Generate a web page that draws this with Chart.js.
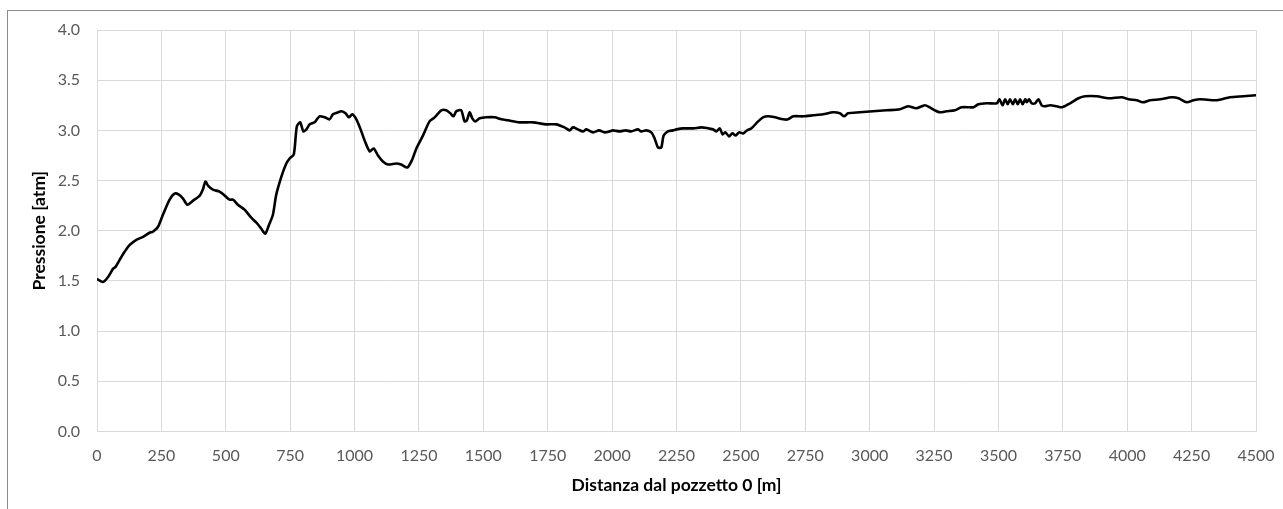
<!DOCTYPE html>
<html>
<head>
<meta charset="utf-8">
<script src="https://cdn.jsdelivr.net/npm/chart.js@4/dist/chart.umd.min.js"></script>
<style>
  html, body { margin: 0; padding: 0; background: #fff; overflow: hidden; }
  #cornice {
    position: absolute; left: 7px; top: 10px; right: -10px; bottom: -10px;
    border: 1px solid #8c8c8c;
  }
  #box { position: absolute; left: 0; top: 0; width: 1283px; height: 509px; }
</style>
</head>
<body>
<div id="cornice"></div>
<div id="box"><canvas id="grafico"></canvas></div>
<script>
// ========================================
// Dati
// ========================================
const distanza = [
  0, 23, 43, 62, 72, 88, 107, 127, 153, 179, 204, 217, 237, 256, 282, 301, 318, 334, 351, 373,
  399, 411, 421, 431, 450, 476, 496, 515, 528, 547, 573, 599, 619, 638, 653, 668, 683, 696, 716, 735,
  748, 764, 776, 789, 801, 813, 826, 845, 864, 884, 903, 916, 936, 949, 965, 978, 991, 1007, 1022, 1039,
  1059, 1074, 1091, 1110, 1130, 1162, 1181, 1205, 1224, 1240, 1266, 1291, 1311, 1337, 1356, 1372, 1384, 1395, 1414, 1427,
  1436, 1447, 1457, 1469, 1486, 1511, 1544, 1570, 1595, 1641, 1693, 1744, 1783, 1815, 1835, 1848, 1867, 1887, 1900, 1926,
  1949, 1971, 1990, 2003, 2029, 2052, 2074, 2100, 2113, 2132, 2152, 2165, 2178, 2191, 2200, 2217, 2236, 2250, 2276, 2315,
  2347, 2392, 2405, 2418, 2429, 2440, 2454, 2467, 2480, 2493, 2509, 2524, 2541, 2567, 2586, 2606, 2632, 2664, 2683, 2703,
  2742, 2781, 2819, 2858, 2884, 2901, 2916, 2962, 3013, 3065, 3117, 3149, 3181, 3214, 3233, 3253, 3272, 3298, 3331, 3356,
  3389, 3403, 3422, 3455, 3494, 3504, 3516, 3526, 3536, 3545, 3556, 3565, 3575, 3584, 3594, 3604, 3610, 3619, 3629, 3642,
  3655, 3668, 3681, 3701, 3726, 3748, 3778, 3811, 3836, 3882, 3927, 3979, 4005, 4037, 4060, 4089, 4128, 4173, 4199, 4231,
  4257, 4283, 4348, 4399, 4451, 4500
];

const pressione = [
  1.52, 1.49, 1.54, 1.62, 1.64, 1.71, 1.79, 1.86, 1.91, 1.94, 1.98, 1.99, 2.04, 2.16, 2.31, 2.37, 2.36, 2.32, 2.26, 2.30,
  2.35, 2.41, 2.49, 2.45, 2.41, 2.39, 2.35, 2.31, 2.31, 2.26, 2.21, 2.13, 2.08, 2.02, 1.97, 2.06, 2.16, 2.36, 2.54, 2.67,
  2.72, 2.76, 3.04, 3.08, 2.99, 3.01, 3.06, 3.08, 3.14, 3.13, 3.11, 3.16, 3.18, 3.19, 3.17, 3.13, 3.16, 3.11, 3.02, 2.90,
  2.79, 2.82, 2.75, 2.69, 2.66, 2.67, 2.66, 2.63, 2.71, 2.82, 2.95, 3.09, 3.13, 3.20, 3.20, 3.17, 3.14, 3.19, 3.20, 3.09,
  3.10, 3.18, 3.12, 3.09, 3.12, 3.13, 3.13, 3.11, 3.10, 3.08, 3.08, 3.06, 3.06, 3.03, 3.00, 3.03, 3.01, 2.99, 3.01, 2.98,
  3.00, 2.98, 2.99, 3.00, 2.99, 3.00, 2.99, 3.01, 2.99, 3.00, 2.98, 2.92, 2.83, 2.83, 2.95, 2.99, 3.00, 3.01, 3.02, 3.02,
  3.03, 3.01, 2.99, 3.02, 2.96, 2.98, 2.94, 2.97, 2.95, 2.98, 2.97, 3.00, 3.02, 3.09, 3.13, 3.14, 3.13, 3.11, 3.11, 3.14,
  3.14, 3.15, 3.16, 3.18, 3.17, 3.14, 3.17, 3.18, 3.19, 3.20, 3.21, 3.24, 3.22, 3.25, 3.23, 3.20, 3.18, 3.19, 3.20, 3.23,
  3.23, 3.23, 3.26, 3.27, 3.27, 3.31, 3.25, 3.31, 3.26, 3.31, 3.26, 3.31, 3.26, 3.31, 3.26, 3.31, 3.28, 3.31, 3.27, 3.27,
  3.31, 3.25, 3.24, 3.25, 3.24, 3.23, 3.27, 3.32, 3.34, 3.34, 3.32, 3.33, 3.31, 3.30, 3.28, 3.30, 3.31, 3.33, 3.32, 3.28,
  3.30, 3.31, 3.30, 3.33, 3.34, 3.35
];

const tickX = { min: 0, max: 4500, passo: 250 };
const tickY = { min: 0, max: 4, passo: 0.5 };

const titoloX = 'Distanza dal pozzetto 0 [m]';
const titoloY = 'Pressione [atm]';

// ========================================
// Grafico
// ========================================
const punti = distanza.map((d, i) => ({ x: d, y: pressione[i] }));
const FONT = 'Lato, Calibri, Carlito, sans-serif';
const GRIGLIA = '#d9d9d9';

const ctx = document.getElementById('grafico').getContext('2d');
new Chart(ctx, {
  type: 'line',
  data: {
    datasets: [{
      label: 'Pressione',
      data: punti,
      borderColor: '#000000',
      borderWidth: 2.6,
      pointRadius: 0,
      tension: 0.25,
      fill: false
    }]
  },
  options: {
    responsive: true,
    maintainAspectRatio: false,
    animation: false,
    layout: { padding: { left: 0, top: 30, right: 27, bottom: 0 } },
    plugins: {
      legend: { display: false },
      tooltip: { enabled: false }
    },
    scales: {
      x: {
        type: 'linear',
        min: tickX.min,
        max: tickX.max,
        afterFit: (scale) => {
          scale.height = 77.5;
          scale.paddingLeft = 0;
          scale.paddingRight = 0;
        },
        grid: { color: GRIGLIA, drawTicks: false },
        border: { color: GRIGLIA },
        ticks: {
          stepSize: tickX.passo,
          padding: 15,
          color: '#595959',
          font: { family: FONT, size: 16 },
          maxRotation: 0,
          callback: (v) => String(v)
        },
        title: {
          display: true,
          text: titoloX,
          color: '#000000',
          font: { family: FONT, size: 17.5, weight: 'bold' },
          padding: { top: 0, bottom: 13 }
        }
      },
      y: {
        min: tickY.min,
        max: tickY.max,
        afterFit: (scale) => { scale.width = 97; },
        grid: { color: GRIGLIA, drawTicks: false },
        border: { color: GRIGLIA },
        ticks: {
          stepSize: tickY.passo,
          padding: 17,
          color: '#595959',
          font: { family: FONT, size: 16 },
          callback: (v) => v.toFixed(1)
        },
        title: {
          display: true,
          text: titoloY,
          color: '#000000',
          font: { family: FONT, size: 17.5, weight: 'bold' },
          padding: { top: 29, bottom: 0 }
        }
      }
    }
  }
});
</script>
</body>
</html>
